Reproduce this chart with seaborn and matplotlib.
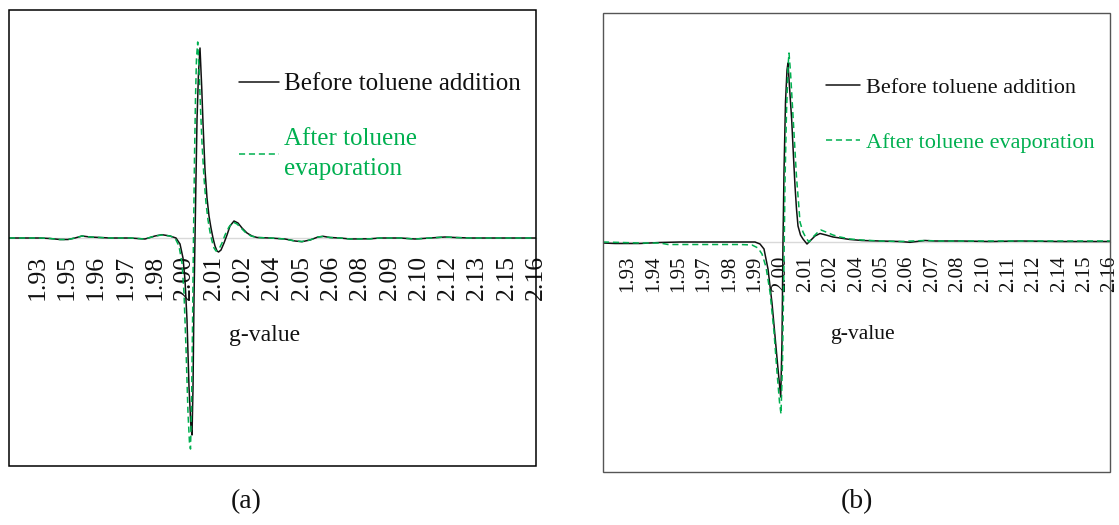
import numpy as np
import pandas as pd
import matplotlib
matplotlib.use("Agg")
import matplotlib.pyplot as plt
import seaborn as sns
from matplotlib.patches import Rectangle

sns.set_theme(style="white")
plt.rcParams["font.family"] = ["Liberation Serif", "DejaVu Serif"]

# ---------------------------------------------------------------------------
# g-value labels shown along each sweep (evenly spaced in field channel)
g_labels_a = ["1.93", "1.95", "1.96", "1.97", "1.98", "2.00", "2.01", "2.02", "2.04",
              "2.05", "2.06", "2.08", "2.09", "2.10", "2.12", "2.13", "2.15", "2.16"]
g_labels_b = ["1.93", "1.94", "1.95", "1.97", "1.98", "1.99", "2.00", "2.01", "2.02", "2.04",
              "2.05", "2.06", "2.07", "2.08", "2.10", "2.11", "2.12", "2.14", "2.15", "2.16"]

# Sample (a): field channel and first-derivative EPR intensity (a.u.)
chan_a_before = [0, 31, 41, 51, 59, 66, 73, 81, 91, 101, 121, 136, 146, 153, 161, 167, 171, 174,
                 176, 178, 180, 182, 183, 184, 185, 186, 187, 188, 189.5, 191, 192.7, 194, 196,
                 198, 200, 202, 204, 206, 208, 209.6, 212, 215, 218, 221, 225, 229, 233, 238,
                 243, 248, 261, 276, 286, 293, 301, 309, 314, 321, 331, 341, 361, 371, 391,
                 406, 421, 436, 446, 461, 527]
int_a_before = [0, 0, -0.5, -1.5, -1.5, 0, 2, 1, 0.5, 0, 0, -1, 2, 3.3, 2, 0, -6, -20,
                -42, -82, -149, -190, -197, -150, -60, 0, 60, 118, 165, 190, 151, 115, 68,
                40, 22, 10, 0, -8, -13, -14, -12, -5, 3, 12, 17, 15, 10, 5,
                2, 0.5, 0, -1, -3, -3.7, -2, 1, 1.7, 0.5, 0, -1, -0.8, 0, 0,
                -1, 0, 1, 0.5, 0, 0]

chan_a_after = [0, 31, 41, 51, 59, 66, 73, 81, 91, 101, 121, 136, 146, 153, 161, 166, 170, 173,
                175, 177, 179, 180.5, 181.5, 182.5, 183.5, 184.5, 185.5, 186.5, 187.5, 188.7,
                190, 191.5, 193, 195, 197, 199, 201, 203, 205, 207, 210, 213, 216, 220, 224,
                228, 232, 237, 242, 248, 261, 276, 286, 293, 301, 309, 314, 321, 331, 341,
                361, 371, 391, 406, 421, 436, 446, 461, 527]
int_a_after = [0, 0, -0.5, -1.5, -1.5, 0, 2, 1, 0.5, 0, 0, -1, 2, 3, 2, 0, -8, -25,
               -55, -110, -175, -205, -211, -170, -90, 0, 80, 140, 180, 196,
               170, 130, 95, 60, 35, 18, 6, -3, -10, -13, -11, -5, 3, 11, 16,
               14, 10, 5, 2, 0.5, 0, -1, -3, -3.5, -2, 1, 1.5, 0.5, 0, -1,
               -0.8, 0, 0, -1, 0, 1, 0.5, 0, 0]

# Sample (b)
chan_b_before = [0, 12, 37, 57, 77, 137, 152, 157, 161, 165, 169, 172, 175, 177.7, 179, 180,
                 181, 182.5, 184, 185, 186.5, 188.7, 190.5, 192, 193.5, 195, 197.5, 200, 204,
                 208, 212, 217, 223, 230, 237, 247, 259, 277, 297, 307, 322, 332, 357, 387,
                 417, 457, 507]
int_b_before = [-1, -1.5, -1.5, -0.5, 0, 0, 0, -2, -7, -27, -61, -94, -127, -155, -100, 0,
                70, 140, 172, 179, 155, 122, 85, 56, 33, 16, 7, 3, -2,
                2, 6, 8.5, 7, 5, 4, 2.5, 1.5, 1, 0.5, -0.3, 1.5, 1, 1, 0.5,
                1, 0.5, 0.5]

chan_b_after = [0, 37, 57, 65, 137, 149, 155, 159, 163, 167, 171, 174, 176.5, 178, 179.5, 181,
                182, 183.5, 185, 186, 187.5, 189.5, 191.5, 193.5, 195.5, 197, 200, 203, 206,
                210, 215, 218, 223, 230, 237, 247, 259, 277, 297, 322, 337, 377, 417, 507]
int_b_after = [0, -1, -1, -2.5, -2.5, -3, -6, -12, -25, -50, -90, -130, -160, -172, -120, -20,
               60, 130, 175, 189, 170, 135, 100, 65, 40, 20, 10, 4, 0,
               5, 10, 12, 10, 7, 5, 3, 2, 1, 0.5, 1.5, 1, 1, 1, 1]

BLACK = "#111111"
GREEN = "#00B050"


def draw_panel(ax, before, after, g_labels, span, ylim, first_tick, names,
               fs_tick, tick_pad, fs_leg, fs_xlabel, leg_anchor, leg_spacing, handle_len,
               text_pad, text_linespacing, xlabel_xy, frame_color, frame_lw):
    df_before = pd.DataFrame({"channel": before[0], "intensity": before[1]})
    df_after = pd.DataFrame({"channel": after[0], "intensity": after[1]})
    sns.lineplot(data=df_before, x="channel", y="intensity", ax=ax, color=BLACK,
                 linewidth=1.1, estimator=None, label=names[0])
    sns.lineplot(data=df_after, x="channel", y="intensity", ax=ax, color=GREEN,
                 linewidth=1.1, estimator=None, linestyle=(0, (4, 2.5)), label=names[1])

    # horizontal axis runs through zero intensity
    for side in ("left", "right", "top"):
        ax.spines[side].set_visible(False)
    ax.spines["bottom"].set_position(("data", 0))
    ax.spines["bottom"].set_color("#D9D9D9")
    ax.spines["bottom"].set_linewidth(1.0)
    ax.spines["bottom"].set_zorder(0.5)

    ax.set_xlim(0, span)
    ax.set_ylim(*ylim)
    ax.set_xticks(np.linspace(first_tick, span, len(g_labels)))
    ax.set_xticklabels(g_labels, fontsize=fs_tick, color="#111111")
    ax.tick_params(axis="x", length=0, pad=tick_pad, labelrotation=90)
    ax.set_yticks([])
    ax.set_xlabel("")
    ax.set_ylabel("")

    ax.add_patch(Rectangle((0, 0), 1, 1, transform=ax.transAxes, fill=False,
                           edgecolor=frame_color, linewidth=frame_lw, clip_on=False,
                           zorder=5))

    ax.text(xlabel_xy[0], xlabel_xy[1], "g-value", transform=ax.transAxes,
            ha="center", va="center", fontsize=fs_xlabel, color="#111111")

    leg = ax.legend(loc="upper left", bbox_to_anchor=leg_anchor, frameon=False,
                    fontsize=fs_leg, handlelength=handle_len, handletextpad=text_pad,
                    labelspacing=leg_spacing, borderpad=0, borderaxespad=0)
    for txt, handle in zip(leg.get_texts(), leg.legend_handles):
        txt.set_color(handle.get_color())
        txt.set_linespacing(text_linespacing)


fig = plt.figure(figsize=(11.19, 5.25), dpi=100)
W, H = 1119, 525
ax_a = fig.add_axes([9 / W, (H - 466) / H, 527 / W, 456 / H])
ax_b = fig.add_axes([603 / W, (H - 472) / H, 507 / W, 459 / H])

draw_panel(ax_a, (chan_a_before, int_a_before), (chan_a_after, int_a_after), g_labels_a,
           span=527, ylim=(-228, 228), first_tick=28.5,
           names=["Before toluene addition", "After toluene\nevaporation"],
           fs_tick=18.5, tick_pad=12.5, fs_leg=18, fs_xlabel=17, leg_anchor=(0.4364, 0.862),
           leg_spacing=1.3, handle_len=1.6, text_pad=0.2, text_linespacing=1.5,
           xlabel_xy=(0.484, 0.287), frame_color="#000000", frame_lw=1.1)

draw_panel(ax_b, (chan_b_before, int_b_before), (chan_b_after, int_b_after), g_labels_b,
           span=507, ylim=(-230, 229), first_tick=25,
           names=["Before toluene addition", "After toluene evaporation"],
           fs_tick=15, tick_pad=10, fs_leg=16, fs_xlabel=15.6, leg_anchor=(0.4398, 0.859),
           leg_spacing=1.52, handle_len=1.53, text_pad=0.27, text_linespacing=1.2,
           xlabel_xy=(0.511, 0.2985), frame_color="#555555", frame_lw=1.0)

fig.text(246 / W, 1 - 502 / H, "(a)", ha="center", va="center", fontsize=20, color="#111111")
fig.text(857 / W, 1 - 502 / H, "(b)", ha="center", va="center", fontsize=20, color="#111111")

fig.savefig("out.png", dpi=100, facecolor="white")
